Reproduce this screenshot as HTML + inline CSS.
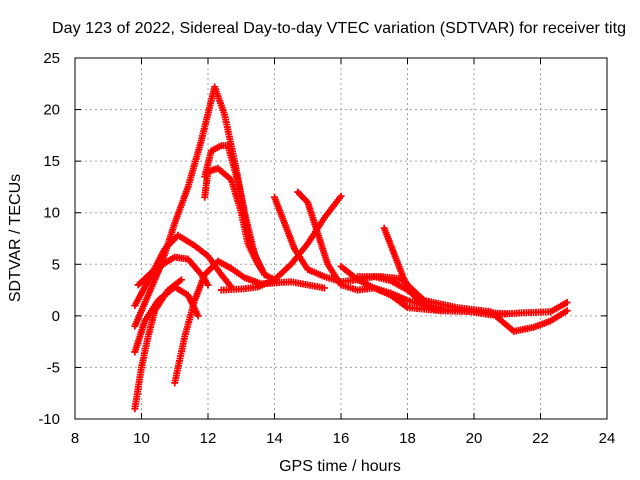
<!DOCTYPE html>
<html><head><meta charset="utf-8"><style>
body{margin:0;background:#fff;}
svg{display:block;font-family:"Liberation Sans",sans-serif;}
</style></head><body>
<svg id="chart" width="640" height="480">
<text x="339" y="33" text-anchor="middle" font-size="16" textLength="574">Day 123 of 2022, Sidereal Day-to-day VTEC variation (SDTVAR) for receiver titg</text>
<text x="340" y="471" text-anchor="middle" font-size="16">GPS time / hours</text>
<text transform="translate(20,238) rotate(-90)" text-anchor="middle" font-size="16">SDTVAR / TECUs</text>
<g id="grid"></g><g id="ticks"></g><g id="series"></g>
<rect x="75" y="58" width="532" height="361" fill="none" stroke="#000"/>
</svg>
<script>
const xTicks=[8,10,12,14,16,18,20,22,24];
const yTicks=[-10,-5,0,5,10,15,20,25];
const s1=[[9.8,-1],[10.2,2],[10.6,5],[11,9],[11.4,12.5],[11.8,17],[12.2,22.2],[12.5,19.5],[12.8,15],[13.1,10],[13.4,6],[13.7,4],[14,3.5]];
const s2=[[11.9,13.5],[12.1,16],[12.4,16.5],[12.6,16.5],[12.9,13],[13.2,8],[13.5,5],[13.7,4]];
const s3=[[11.9,11.5],[12,14],[12.3,14.3],[12.7,13.2],[13,10],[13.2,7],[13.5,5]];
const s4=[[9.8,1],[10.3,4],[10.7,6.5],[11.1,7.8],[11.6,6.8],[12,5.8],[12.4,4],[12.7,2.8]];
const s5=[[9.9,3],[10.4,4.5],[11,5.7],[11.4,5.5],[11.8,4],[12,3]];
const s6=[[9.8,-3.5],[10.1,-0.5],[10.5,1.5],[11,2.8],[11.4,2],[11.7,0]];
const s7=[[9.8,-9],[10,-5],[10.2,-2],[10.4,0.5],[10.8,2.5],[11.2,3.5]];
const s8=[[11,-6.5],[11.3,-2],[11.6,1.5],[11.9,4],[12.3,5.3],[12.7,4.6],[13.1,3.7],[13.6,3.1],[14,3.2],[14.5,3.3],[15,3],[15.5,2.7]];
const s9=[[12.4,2.5],[13,2.6],[13.5,2.8],[14,3.5],[14.5,5],[15,7],[15.5,9.5],[16,11.6]];
const s10=[[14,11.5],[14.3,9],[14.6,6.5],[15,4.5],[15.5,3.8],[16,3.3],[16.5,3.5],[17,3.8],[17.5,3.4],[18,2.5],[18.5,1.2],[19,0.7]];
const s11=[[14.7,12],[15,11],[15.3,8],[15.6,5],[16,3],[16.5,2.5],[17,2.7],[17.5,2.2],[18,1.5],[18.5,1]];
const s12=[[16,4.8],[16.5,3.5],[17,2.7],[17.5,2],[18,0.8],[19,0.5],[20,0.4],[21,0.2]];
const s13=[[17.3,8.5],[17.6,6],[17.9,3.5],[18.3,1.5],[18.8,0.6],[19.5,0.6],[20.5,0.1],[21.5,0.3],[22.3,0.4],[22.8,1.3]];
const s14=[[16.5,3.8],[17.2,3.8],[17.8,3.6],[18.5,1.5],[19.5,0.8],[20.5,0.4],[21.2,-1.5],[21.8,-1.1],[22.3,-0.5],[22.8,0.5]];
const seriesList=[s1,s2,s3,s4,s5,s6,s7,s8,s9,s10,s11,s12,s13,s14];
const X0=8,X1=24,Y0=-10,Y1=25,L=75,R=607,T=58,B=419;
const xs=v=>L+(v-X0)/(X1-X0)*(R-L);
const ys=v=>B-(v-Y0)/(Y1-Y0)*(B-T);
const NS="http://www.w3.org/2000/svg";
function mk(tag,attrs,parent){const e=document.createElementNS(NS,tag);for(const k in attrs)e.setAttribute(k,attrs[k]);parent.appendChild(e);return e;}
const grid=document.getElementById('grid'),ticks=document.getElementById('ticks'),ser=document.getElementById('series');
xTicks.forEach(t=>{const x=xs(t);
 if(t>X0&&t<X1){const g=mk('line',{x1:x,x2:x,y1:T,y2:B,stroke:'#a0a0a0','stroke-dasharray':'2,3'},grid);}
 mk('line',{x1:x,x2:x,y1:B,y2:B-6,stroke:'#000'},ticks);mk('line',{x1:x,x2:x,y1:T,y2:T+6,stroke:'#000'},ticks);
 const tx=mk('text',{x:x,y:B+24,'text-anchor':'middle','font-size':15},ticks);tx.textContent=t;
 });
yTicks.forEach(t=>{const y=ys(t);
 if(t>Y0&&t<Y1){const g=mk('line',{x1:L,x2:R,y1:y,y2:y,stroke:'#a0a0a0','stroke-dasharray':'2,3'},grid);}
 mk('line',{x1:L,x2:L+6,y1:y,y2:y,stroke:'#000'},ticks);mk('line',{x1:R,x2:R-6,y1:y,y2:y,stroke:'#000'},ticks);
 const tx=mk('text',{x:L-15,y:y+5,'text-anchor':'end','font-size':15},ticks);tx.textContent=t;
 });
seriesList.forEach((s,i)=>{
 const g=mk('g',{},ser);
 
 
 let d='';
 for(let k=0;k<s.length-1;k++){
  const ax=xs(s[k][0]),ay=ys(s[k][1]),bx=xs(s[k+1][0]),by=ys(s[k+1][1]);
  const n=Math.max(1,Math.ceil(Math.hypot(bx-ax,by-ay)/2.5));
  for(let j=0;j<n;j++){const px=ax+(bx-ax)*j/n,py=ay+(by-ay)*j/n;
   d+=`M${px-3.5},${py}h7M${px},${py-3.5}v7`;}
 }
 const l=s[s.length-1];const px=xs(l[0]),py=ys(l[1]);d+=`M${px-3.5},${py}h7M${px},${py-3.5}v7`;
 mk('path',{d:d,stroke:'#ff0000','stroke-width':1.8,fill:'none'},g);
});
</script>
</body></html>
